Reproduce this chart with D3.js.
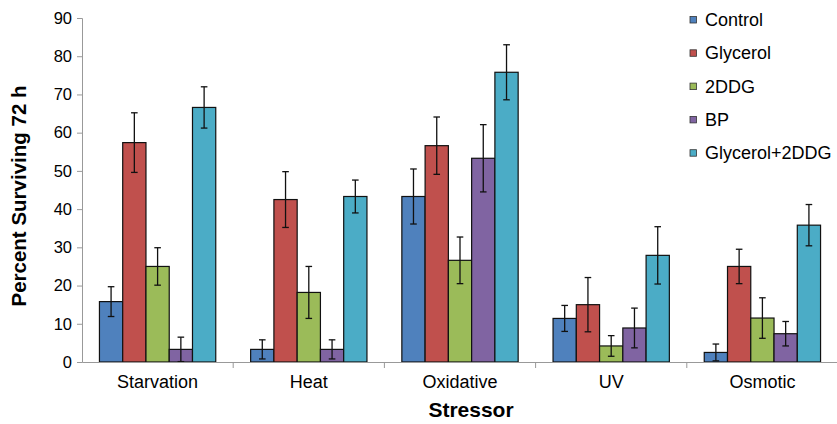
<!DOCTYPE html>
<html><head><meta charset="utf-8">
<script src="https://cdn.jsdelivr.net/npm/d3@7"></script>
<style>body{margin:0;background:#fff}svg{display:block}text{font-family:"Liberation Sans",Arial,sans-serif}</style>
</head><body><svg id="c" width="837" height="424"></svg>
<script>
const categories = ["Starvation","Heat","Oxidative","UV","Osmotic"];
const seriesNames = ["Control","Glycerol","2DDG","BP","Glycerol+2DDG"];
const control   = [15.8, 3.3, 43.3, 11.4, 2.5];
const glycerol  = [57.4, 42.5, 56.6, 15.0, 25.0];
const ddg       = [25.0, 18.2, 26.6, 4.2, 11.5];
const bp        = [3.3, 3.3, 53.3, 8.9, 7.4];
const glyDdg    = [66.6, 43.3, 75.8, 27.9, 35.8];
const controlErr  = [3.9, 2.5, 7.2, 3.4, 2.2];
const glycerolErr = [7.8, 7.3, 7.5, 7.1, 4.5];
const ddgErr      = [4.9, 6.8, 6.1, 2.7, 5.3];
const bpErr       = [3.2, 2.5, 8.8, 5.2, 3.2];
const glyDdgErr   = [5.4, 4.3, 7.2, 7.5, 5.4];
const yTicks = [0,10,20,30,40,50,60,70,80,90];
const colors = ["#4F81BD","#C0504D","#9BBB59","#8064A2","#4BACC6"];

(function () {
const values = [control, glycerol, ddg, bp, glyDdg];
const errs = [controlErr, glycerolErr, ddgErr, bpErr, glyDdgErr];

const svg = d3.select("#c");
const mLeft = 82, mRight = 838, mTop = 18, mBottom = 362;
const x = d3.scaleBand().domain(categories).range([mLeft, mRight]).paddingInner(0).paddingOuter(0);
const inner = d3.scaleBand().domain(seriesNames).range([0, x.bandwidth()]).paddingInner(0).paddingOuter(0.75);
const y = d3.scaleLinear().domain([0, 90]).range([mBottom, mTop]);

// y axis
const yAxis = svg.append("g").attr("transform", `translate(${mLeft},0)`)
  .call(d3.axisLeft(y).tickValues(yTicks).tickSize(5).tickPadding(5));
yAxis.select(".domain").attr("stroke","#999");
yAxis.selectAll(".tick line").attr("stroke","#999");
yAxis.selectAll("text").attr("font-size",16.5).attr("fill","#000");

// bars
categories.forEach((c, ci) => {
  seriesNames.forEach((s, si) => {
    const v = values[si][ci], e = errs[si][ci];
    const bx = x(c) + inner(s), bw = inner.bandwidth();
    svg.append("rect").attr("x", bx).attr("y", y(v)).attr("width", bw).attr("height", y(0) - y(v))
      .attr("fill", colors[si]).attr("stroke", "#111").attr("stroke-width", 1.2);
    const cx = bx + bw / 2;
    const g = svg.append("g").attr("stroke", "#111").attr("stroke-width", 1.3);
    g.append("line").attr("x1", cx).attr("x2", cx).attr("y1", y(v + e)).attr("y2", y(Math.max(0, v - e)));
    g.append("line").attr("x1", cx - 3.3).attr("x2", cx + 3.3).attr("y1", y(v + e)).attr("y2", y(v + e));
    g.append("line").attr("x1", cx - 3.3).attr("x2", cx + 3.3).attr("y1", y(Math.max(0, v - e))).attr("y2", y(Math.max(0, v - e)));
  });
});

// x axis
const xAxis = svg.append("g").attr("transform", `translate(0,${mBottom})`)
  .call(d3.axisBottom(x).tickSize(0).tickPadding(13));
xAxis.select(".domain").attr("stroke","#999");
xAxis.selectAll("text").attr("font-size",18).attr("fill","#000");
categories.slice(1).forEach(c => {
  svg.append("line").attr("x1", x(c)).attr("x2", x(c)).attr("y1", mBottom).attr("y2", mBottom + 6).attr("stroke","#999");
});

// titles
svg.append("text").attr("x", 471).attr("y", 417).attr("text-anchor","middle")
  .attr("font-size",21).attr("font-weight","bold").text("Stressor");
svg.append("text").attr("transform", `translate(26,196) rotate(-90)`).attr("text-anchor","middle")
  .attr("font-size",20.5).attr("font-weight","bold").text("Percent Surviving 72 h");

// legend
seriesNames.forEach((s, i) => {
  const base = 26 + i * 33.3;
  svg.append("rect").attr("x", 690).attr("y", base - 9.5).attr("width", 6.5).attr("height", 6.5)
    .attr("fill", colors[i]).attr("stroke", "#333").attr("stroke-width", 0.8);
  svg.append("text").attr("x", 705).attr("y", base).attr("font-size", 18).text(s);
});
})();
</script></body></html>
